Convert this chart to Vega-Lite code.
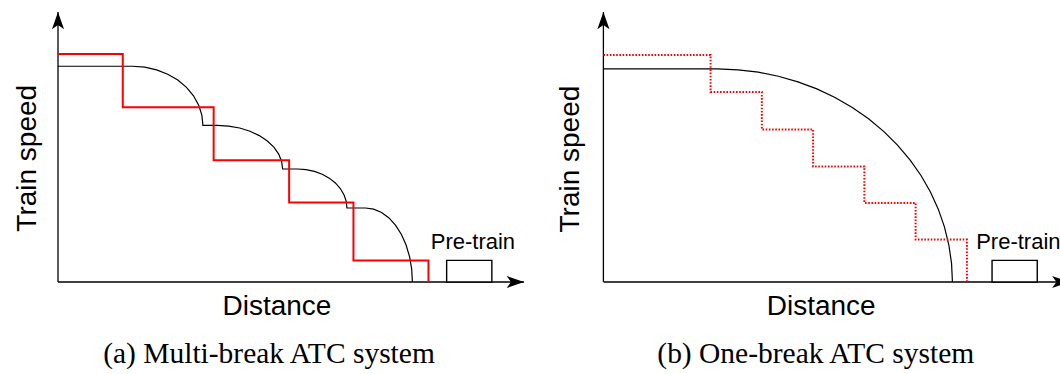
{
  "$schema": "https://vega.github.io/schema/vega-lite/v6.json",
  "background": "white",
  "padding": {"left": 13, "top": 11, "right": 0, "bottom": 0},
  "spacing": 79.4,
  "bounds": "flush",
  "config": {
    "view": {"stroke": null},
    "axis": {
      "domain": false, "ticks": false, "labels": false, "grid": false,
      "titleFont": "Liberation Sans", "titleFontSize": 28, "titleFontWeight": "normal",
      "titleColor": "black", "titleBaseline": "alphabetic", "titleAlign": "center", "minExtent": 0
    },
    "title": {"font": "Liberation Serif", "fontSize": 29.5, "fontWeight": "normal", "color": "black"}
  },
  "datasets": {
    "axisX": [{"x": 0, "y": 0, "x2": 100, "y2": 0}],
    "axisY": [{"x": 0, "y": 0, "x2": 0, "y2": 100}],
    "tipX": [{"x": 100, "y": 0}],
    "tipY": [{"x": 0, "y": 100}],
    "box": [{"x": 83.4, "x2": 93.1, "y": 0, "y2": 8.0}],
    "label": [{"x": 80, "y": 12.4, "text": "Pre-train"}],
    "stepsMulti": [
      {"x": 0, "y": 84.4}, {"x": 13.9, "y": 64.7}, {"x": 33.4, "y": 45.1},
      {"x": 49.6, "y": 29.4}, {"x": 63.4, "y": 8.0}, {"x": 79.5, "y": 0}
    ],
    "curveMulti": [
      {"x": 0, "y": 79.9}, {"x": 16.0, "y": 79.9}, {"x": 18.62, "y": 79.57}, {"x": 21.16, "y": 78.58},
      {"x": 23.55, "y": 76.97}, {"x": 25.71, "y": 74.78}, {"x": 27.57, "y": 72.08}, {"x": 29.08, "y": 68.95},
      {"x": 30.19, "y": 65.49}, {"x": 30.87, "y": 61.8}, {"x": 31.1, "y": 58.0},
      {"x": 34.2, "y": 58.0}, {"x": 36.63, "y": 57.75}, {"x": 38.99, "y": 57.03}, {"x": 41.2, "y": 55.84},
      {"x": 43.2, "y": 54.22}, {"x": 44.92, "y": 52.23}, {"x": 46.32, "y": 49.93}, {"x": 47.36, "y": 47.37},
      {"x": 47.99, "y": 44.65}, {"x": 48.2, "y": 41.85},
      {"x": 51.4, "y": 41.85}, {"x": 53.24, "y": 41.63}, {"x": 55.03, "y": 40.98}, {"x": 56.7, "y": 39.91},
      {"x": 58.21, "y": 38.47}, {"x": 59.52, "y": 36.69}, {"x": 60.58, "y": 34.63}, {"x": 61.36, "y": 32.34},
      {"x": 61.84, "y": 29.91}, {"x": 62.0, "y": 27.4},
      {"x": 66.0, "y": 27.4}, {"x": 67.74, "y": 26.98}, {"x": 69.44, "y": 25.75}, {"x": 71.03, "y": 23.73},
      {"x": 72.46, "y": 20.99}, {"x": 73.7, "y": 17.61}, {"x": 74.7, "y": 13.7}, {"x": 75.44, "y": 9.37},
      {"x": 75.9, "y": 4.76}, {"x": 76.05, "y": 0}
    ],
    "stepsOne": [
      {"x": 0, "y": 84.1}, {"x": 23, "y": 70.4}, {"x": 34, "y": 56.5}, {"x": 45, "y": 42.8},
      {"x": 56, "y": 29.3}, {"x": 67, "y": 15.7}, {"x": 78, "y": 0}
    ],
    "curveOne": [
      {"x": 0, "y": 78.9}, {"x": 24.5, "y": 78.9}, {"x": 28.89, "y": 78.6}, {"x": 33.25, "y": 77.7},
      {"x": 37.54, "y": 76.21}, {"x": 41.74, "y": 74.14}, {"x": 45.8, "y": 71.51}, {"x": 49.7, "y": 68.33},
      {"x": 53.41, "y": 64.63}, {"x": 56.9, "y": 60.44}, {"x": 60.14, "y": 55.79}, {"x": 63.11, "y": 50.72},
      {"x": 65.79, "y": 45.26}, {"x": 68.15, "y": 39.45}, {"x": 70.18, "y": 33.34}, {"x": 71.86, "y": 26.98},
      {"x": 73.18, "y": 20.42}, {"x": 74.13, "y": 13.7}, {"x": 74.71, "y": 6.88}, {"x": 74.9, "y": 0}
    ]
  },
  "hconcat": [
    {
      "width": 466,
      "height": 280.8,
      "title": {"text": "(a) Multi-break ATC system", "orient": "bottom", "anchor": "middle", "frame": "group", "dx": -22, "offset": 19, "baseline": "top"},
      "encoding": {
        "x": {"field": "x", "type": "quantitative", "scale": {"domain": [0, 100], "nice": false, "zero": false},
              "axis": {"title": "Distance", "titleX": 218.4, "titleY": 21.8}},
        "y": {"field": "y", "type": "quantitative", "scale": {"domain": [-4, 100], "nice": false, "zero": false},
              "axis": {"title": "Train speed", "titleX": -22.5, "titleY": 145.8}}
      },
      "layer": [
        {"data": {"name": "axisX"}, "mark": {"type": "rule", "color": "black", "strokeWidth": 1.3},
         "encoding": {"x2": {"field": "x2"}, "y2": {"field": "y2"}}},
        {"data": {"name": "axisY"}, "mark": {"type": "rule", "color": "black", "strokeWidth": 1.3},
         "encoding": {"x2": {"field": "x2"}, "y2": {"field": "y2"}}},
        {"data": {"name": "tipX"}, "mark": {"type": "point", "shape": "M0,0L-2,-0.7L-1.5,0L-2,0.7Z", "size": 300, "filled": true, "color": "black", "opacity": 1, "strokeWidth": 0}},
        {"data": {"name": "tipY"}, "mark": {"type": "point", "shape": "M0,0L-0.7,2L0,1.5L0.7,2Z", "size": 300, "filled": true, "color": "black", "opacity": 1, "strokeWidth": 0}},
        {"data": {"name": "box"}, "mark": {"type": "rect", "fill": "white", "stroke": "black", "strokeWidth": 1.4},
         "encoding": {"x2": {"field": "x2"}, "y2": {"field": "y2"}}},
        {"data": {"name": "label"}, "mark": {"type": "text", "font": "Liberation Sans", "fontSize": 22, "align": "left", "baseline": "alphabetic", "color": "black"},
         "encoding": {"text": {"field": "text"}}},
        {"data": {"name": "curveMulti"}, "mark": {"type": "line", "color": "black", "strokeWidth": 1.2}},
        {"data": {"name": "stepsMulti"}, "mark": {"type": "line", "color": "#ff0000", "strokeWidth": 2, "interpolate": "step-after"}}
      ]
    },
    {
      "width": 457.3,
      "height": 280.8,
      "title": {"text": "(b) One-break ATC system", "orient": "bottom", "anchor": "middle", "frame": "group", "dx": -16.3, "offset": 19, "baseline": "top"},
      "encoding": {
        "x": {"field": "x", "type": "quantitative", "scale": {"domain": [0, 98.13], "nice": false, "zero": false},
              "axis": {"title": "Distance", "titleX": 217.3, "titleY": 21.8}},
        "y": {"field": "y", "type": "quantitative", "scale": {"domain": [-4, 100], "nice": false, "zero": false},
              "axis": {"title": "Train speed", "titleX": -24.7, "titleY": 146.6}}
      },
      "layer": [
        {"data": {"name": "axisX"}, "mark": {"type": "rule", "color": "black", "strokeWidth": 1.3, "clip": true},
         "encoding": {"x2": {"field": "x2"}, "y2": {"field": "y2"}}},
        {"data": {"name": "axisY"}, "mark": {"type": "rule", "color": "black", "strokeWidth": 1.3},
         "encoding": {"x2": {"field": "x2"}, "y2": {"field": "y2"}}},
        {"data": {"name": "tipX"}, "mark": {"type": "point", "shape": "M0,0L-2,-0.7L-1.5,0L-2,0.7Z", "size": 300, "filled": true, "color": "black", "opacity": 1, "strokeWidth": 0, "clip": true}},
        {"data": {"name": "tipY"}, "mark": {"type": "point", "shape": "M0,0L-0.7,2L0,1.5L0.7,2Z", "size": 300, "filled": true, "color": "black", "opacity": 1, "strokeWidth": 0}},
        {"data": {"name": "box"}, "mark": {"type": "rect", "fill": "white", "stroke": "black", "strokeWidth": 1.4},
         "encoding": {"x2": {"field": "x2"}, "y2": {"field": "y2"}}},
        {"data": {"name": "label"}, "mark": {"type": "text", "font": "Liberation Sans", "fontSize": 22, "align": "left", "baseline": "alphabetic", "color": "black", "clip": true},
         "encoding": {"text": {"field": "text"}}},
        {"data": {"name": "curveOne"}, "mark": {"type": "line", "color": "black", "strokeWidth": 1.2}},
        {"data": {"name": "stepsOne"}, "mark": {"type": "line", "color": "#ff0000", "strokeWidth": 2, "strokeDash": [1.6, 1.6], "interpolate": "step-after"}}
      ]
    }
  ]
}
